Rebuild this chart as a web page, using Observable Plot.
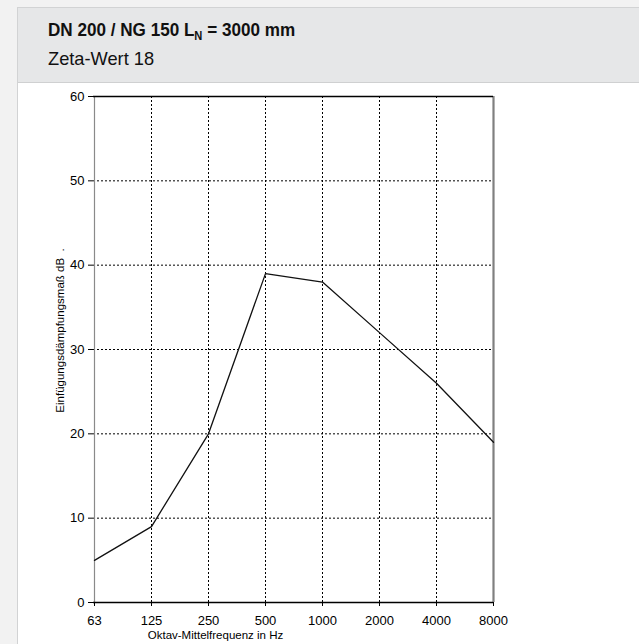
<!DOCTYPE html>
<html><head><meta charset="utf-8">
<script src="https://cdn.jsdelivr.net/npm/d3@7"></script>
<script src="https://cdn.jsdelivr.net/npm/@observablehq/plot@0.6"></script>
<style>
html,body{margin:0;padding:0}
body{background:#f2f2f2;width:639px;height:644px;overflow:hidden;position:relative;font-family:"Liberation Sans",Arial,sans-serif}
#card{position:absolute;left:17px;top:7px;width:640px;height:650px;background:#fff;border:1px solid #d2d3d4;box-sizing:border-box}
#head{position:absolute;left:0;top:0;right:0;height:75px;background:#e6e7e8;border-bottom:1px solid #cfd0d1;box-sizing:border-box}
.t{position:absolute;left:30px;white-space:nowrap;color:#111;font-family:"Liberation Sans",Arial,sans-serif;line-height:20px;transform-origin:0 50%}
#title{top:12px;font-size:19px;font-weight:bold;transform:scaleX(0.9)}
#title sub{font-size:0.65em;vertical-align:-4px;line-height:0}
#subtitle{top:41px;font-size:19px;transform:scaleX(0.96)}
#chart{position:absolute;left:0;top:83px}
</style>
</head><body>
<div id="card"><div id="head">
<div class="t" id="title">DN 200 / NG 150 L<sub>N</sub> = 3000 mm</div>
<div class="t" id="subtitle">Zeta-Wert 18</div>
</div></div>
<div id="chart"></div>
<script>
const freqs = ["63","125","250","500","1000","2000","4000","8000"];
const damping = [5, 9, 20, 39, 38, 32, 26, 19];
const yTicks = [0, 10, 20, 30, 40, 50, 60];
const yLabel = "Einfügungsdämpfungsmaß dB  .";
const xLabel = "Oktav-Mittelfrequenz in Hz";

const rows = freqs.map((f, i) => ({freq: f, value: damping[i]}));
const dash = "2,2";

const plot = Plot.plot({
  width: 639,
  height: 561,
  marginLeft: 93,
  marginRight: 146,
  marginTop: 13,
  marginBottom: 42,
  style: {background: "transparent", fontFamily: "'Liberation Sans', Arial, sans-serif", fontSize: "13px", color: "#000"},
  x: {type: "point", domain: freqs, padding: 0, label: null},
  y: {domain: [0, 60], label: null},
  marks: [
    Plot.ruleX(freqs.slice(1, -1), {x: d => d, stroke: "#000", strokeWidth: 1, strokeDasharray: dash}),
    Plot.ruleY(yTicks.slice(1, -1), {y: d => d, stroke: "#000", strokeWidth: 1, strokeDasharray: dash}),
    Plot.ruleX([freqs[0]], {x: d => d, stroke: "#8a8a8a", strokeWidth: 1.2}),
    Plot.ruleX([freqs[freqs.length - 1]], {x: d => d, stroke: "#808080", strokeWidth: 2.2}),
    Plot.ruleY([yTicks[yTicks.length - 1]], {y: d => d, stroke: "#000", strokeWidth: 1.3}),
    Plot.ruleY([yTicks[0]], {y: d => d, stroke: "#000", strokeWidth: 1.3}),
    Plot.line(rows, {x: "freq", y: "value", stroke: "#111", strokeWidth: 1.3}),
    Plot.axisY(yTicks, {tickSize: 5, tickPadding: 4, fontSize: 13, label: null, stroke: "#000"}),
    Plot.axisX(freqs, {tickSize: 4, tickPadding: 9, fontSize: 13, label: null, stroke: "#000"}),
    Plot.text([yLabel], {text: d => d, frameAnchor: "left", rotate: -90, dx: -33, dy: -19, fontSize: 11.5, textAnchor: "middle", fill: "#000"}),
    Plot.text([xLabel], {text: d => d, frameAnchor: "bottom", dx: -78, dy: 36, fontSize: 11.5, textAnchor: "middle", fill: "#000"})
  ]
});
document.getElementById("chart").appendChild(plot);
</script>
</body></html>
